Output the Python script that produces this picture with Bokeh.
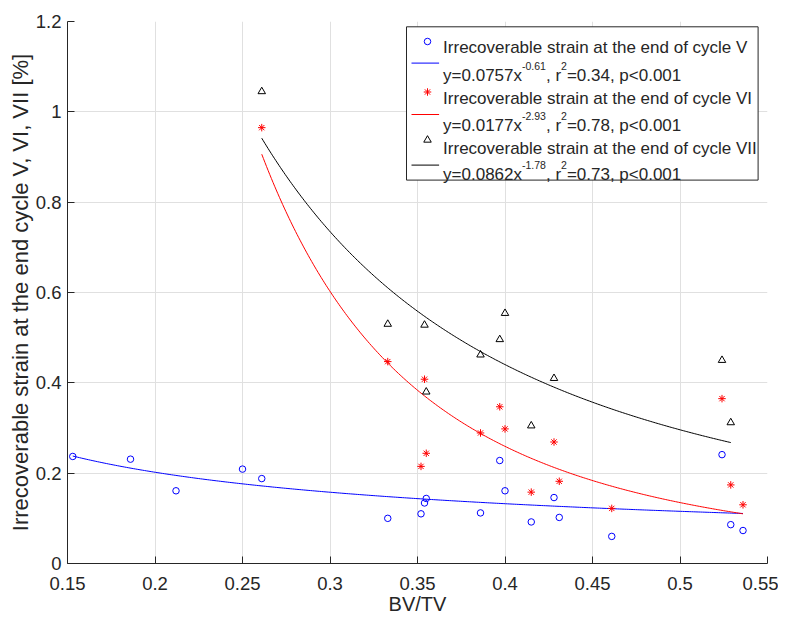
import numpy as np
from bokeh.plotting import figure
from bokeh.models import Range1d, FixedTicker
from bokeh.core.properties import value
from bokeh.embed import file_html
from bokeh.resources import INLINE

# ---------------- data ----------------
bv_v = [0.153, 0.186, 0.212, 0.250, 0.261, 0.333, 0.352, 0.354, 0.355, 0.386,
        0.397, 0.400, 0.415, 0.428, 0.431, 0.461, 0.524, 0.529, 0.536]
strain_v = [0.237, 0.231, 0.161, 0.209, 0.188, 0.100, 0.110, 0.134, 0.144, 0.112,
            0.228, 0.161, 0.092, 0.146, 0.102, 0.060, 0.241, 0.086, 0.073]

bv_vi = [0.261, 0.333, 0.352, 0.354, 0.355, 0.386, 0.397, 0.400, 0.415, 0.428,
         0.431, 0.461, 0.524, 0.529, 0.536]
strain_vi = [0.965, 0.447, 0.215, 0.408, 0.244, 0.289, 0.347, 0.298, 0.158, 0.269,
             0.182, 0.122, 0.365, 0.174, 0.130]

bv_vii = [0.261, 0.333, 0.354, 0.355, 0.386, 0.397, 0.400, 0.415, 0.428, 0.524, 0.529]
strain_vii = [1.045, 0.530, 0.528, 0.380, 0.462, 0.496, 0.554, 0.305, 0.410, 0.450, 0.312]

# power-law fits y = a * x^b (from the legend)
fit_a = [0.0757, 0.0177, 0.0862]
fit_b = [-0.61, -2.93, -1.78]
fit_r2 = [0.34, 0.78, 0.73]
fit_p = "p<0.001"

series_names = ["Irrecoverable strain at the end of cycle V",
                "Irrecoverable strain at the end of cycle VI",
                "Irrecoverable strain at the end of cycle VII"]

x_ticks = [0.15, 0.2, 0.25, 0.3, 0.35, 0.4, 0.45, 0.5, 0.55]
x_tick_labels = ["0.15", "0.2", "0.25", "0.3", "0.35", "0.4", "0.45", "0.5", "0.55"]
y_ticks = [0, 0.2, 0.4, 0.6, 0.8, 1, 1.2]
y_tick_labels = ["0", "0.2", "0.4", "0.6", "0.8", "1", "1.2"]
x_label = "BV/TV"
y_label = "Irrecoverable strain at the end cycle V, VI, VII [%]"

# ---------------- style ----------------
FONT = "Liberation Sans"
AX = "#262626"
FW, FH = 700, 542
colors = ["#0000ff", "#ff0000", "#000000"]
markers = ["circle", "asterisk", "triangle"]
msizes = [6.5, 7.5, 7.5]

p = figure(frame_width=FW, frame_height=FH,
           x_range=Range1d(0.15, 0.55), y_range=Range1d(0, 1.2),
           output_backend="svg", toolbar_location=None,
           min_border_left=67, min_border_right=11,
           min_border_top=21, min_border_bottom=40)
p.extra_x_ranges = {"px": Range1d(0, FW)}
p.extra_y_ranges = {"px": Range1d(FH, 0)}
p.outline_line_color = None
p.background_fill_color = "white"
p.border_fill_color = "white"

p.xaxis.ticker = FixedTicker(ticks=x_ticks)
p.yaxis.ticker = FixedTicker(ticks=y_ticks)
p.xaxis.major_label_overrides = dict(zip(x_ticks, x_tick_labels))
p.yaxis.major_label_overrides = dict(zip(y_ticks, y_tick_labels))
p.xaxis.axis_label = x_label
p.yaxis.axis_label = y_label

for ax in (p.xaxis[0], p.yaxis[0]):
    ax.axis_line_color = AX
    ax.axis_line_width = 1
    ax.major_tick_line_color = AX
    ax.major_tick_in = 7
    ax.major_tick_out = 0
    ax.minor_tick_line_color = None
    ax.major_label_text_font = FONT
    ax.major_label_text_font_size = "18.5px"
    ax.major_label_text_color = AX
    ax.axis_label_text_font = FONT
    ax.axis_label_text_font_style = "normal"
    ax.axis_label_text_color = AX
p.xaxis.major_label_standoff = 13
p.xaxis.axis_label_standoff = 0
p.xaxis.axis_label_text_font_size = "20px"
p.yaxis.major_label_standoff = 6
p.yaxis.axis_label_standoff = 0
p.yaxis.axis_label_text_font_size = "22px"

for g in (p.xgrid[0], p.ygrid[0]):
    g.grid_line_color = "#e0e0e0"
    g.grid_line_width = 1
p.xgrid.ticker = FixedTicker(ticks=x_ticks)
p.ygrid.ticker = FixedTicker(ticks=y_ticks)

# ---------------- data marks ----------------
series = [(bv_v, strain_v), (bv_vi, strain_vi), (bv_vii, strain_vii)]
for i, (xs, ys) in enumerate(series):
    p.scatter(xs, ys, marker=markers[i], size=msizes[i], fill_color=None,
              line_color=colors[i], line_width=1)
    xx = np.linspace(min(xs), max(xs), 300)
    yy = fit_a[i] * xx ** fit_b[i]
    p.line(xx, yy, line_color=colors[i], line_width=1)

# ---------------- legend (drawn manually, pixel ranges) ----------------
W = {'y': 500, '=': 584, '.': 278, 'x': 500, '-': 333, ',': 278, ' ': 278,
     'r': 333, 'p': 556, '<': 584}


def tw(s, size):
    return sum(W.get(c, 556) for c in s) / 1000.0 * size


LEG_FS = 17.0
SUP_FS = 10.5
p.quad(left=[339], right=[690.6], top=[5.3], bottom=[158.6],
       x_range_name="px", y_range_name="px",
       fill_color="white", line_color=AX, line_width=1)

mark_y = [20.0, 70.5, 118.5]
line_y = [41.6, 93.0, 143.6]
name_base = [26.0, 76.5, 126.5]
fit_base = [53.5, 103.5, 152.5]
tx0 = 375.6

main_x, main_y, main_t = [], [], []
sup_x, sup_y, sup_t = [], [], []
for i in range(3):
    p.scatter([360], [mark_y[i]], marker=markers[i], size=msizes[i],
              fill_color=None, line_color=colors[i], line_width=1,
              x_range_name="px", y_range_name="px")
    p.line([344, 371.6], [line_y[i], line_y[i]], line_color=colors[i], line_width=1,
           x_range_name="px", y_range_name="px")
    main_x.append(tx0); main_y.append(name_base[i]); main_t.append(series_names[i])
    pieces = [(f"y={fit_a[i]:.4f}x", False), (f"{fit_b[i]:.2f}", True),
              (", r", False), ("2", True), (f"={fit_r2[i]:.2f}, {fit_p}", False)]
    cx = tx0
    for s, sup in pieces:
        if sup:
            sup_x.append(cx); sup_y.append(fit_base[i] - 9.3); sup_t.append(s)
            cx += tw(s, SUP_FS)
        else:
            main_x.append(cx); main_y.append(fit_base[i]); main_t.append(s)
            cx += tw(s, LEG_FS)

p.text(x=main_x, y=main_y, text=main_t, text_font=value(FONT),
       text_font_size=value(f"{LEG_FS}px"), text_baseline="alphabetic",
       text_align="left", text_color=AX, x_range_name="px", y_range_name="px")
p.text(x=sup_x, y=sup_y, text=sup_t, text_font=value(FONT),
       text_font_size=value(f"{SUP_FS}px"), text_baseline="alphabetic",
       text_align="left", text_color=AX, x_range_name="px", y_range_name="px")

open("out.html", "w").write(file_html(p, INLINE))
